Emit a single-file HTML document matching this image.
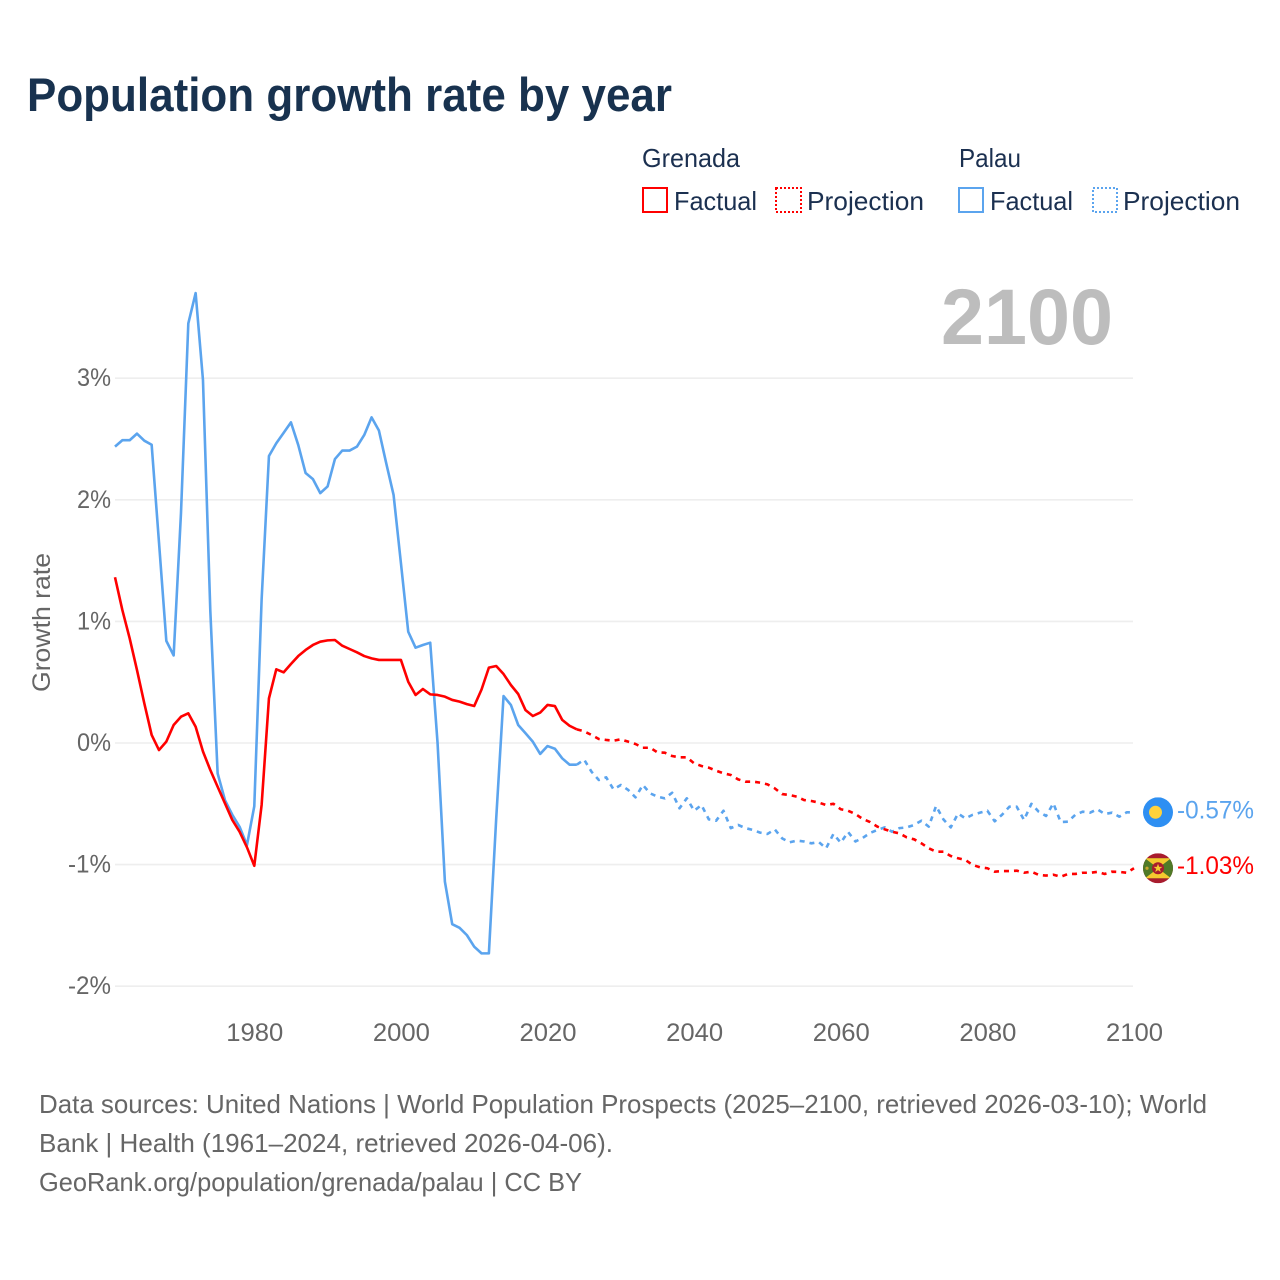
<!DOCTYPE html>
<html lang="en">
<head>
<meta charset="utf-8">
<title>Population growth rate by year</title>
<style>
html,body{margin:0;padding:0;background:#fff;width:1280px;height:1280px;overflow:hidden}
svg{display:block}
text{font-family:"Liberation Sans",sans-serif}
</style>
</head>
<body>
<svg id="chart" xmlns="http://www.w3.org/2000/svg" width="1280" height="1280" viewBox="0 0 1280 1280">
  <defs>
    <clipPath id="palau-clip"><circle cx="0" cy="0" r="15"/></clipPath>
    <clipPath id="grenada-clip"><circle cx="0" cy="0" r="15"/></clipPath>
  </defs>
  <rect width="1280" height="1280" fill="#fff"/>
  <text x="27" y="111" font-size="47" font-weight="700" fill="#18324f" textLength="645" lengthAdjust="spacingAndGlyphs">Population growth rate by year</text>

  <g font-size="26" fill="#1b3050">
    <text x="642" y="167" textLength="98" lengthAdjust="spacingAndGlyphs">Grenada</text>
    <rect x="643" y="188" width="24" height="24" fill="none" stroke="#ff0000" stroke-width="2"/>
    <text x="674" y="210" textLength="83" lengthAdjust="spacingAndGlyphs">Factual</text>
    <rect x="776" y="188" width="25" height="24" fill="none" stroke="#ff0000" stroke-width="2" stroke-dasharray="2,2"/>
    <text x="807" y="210" textLength="117" lengthAdjust="spacingAndGlyphs">Projection</text>
    <text x="959" y="167" textLength="62" lengthAdjust="spacingAndGlyphs">Palau</text>
    <rect x="959" y="188" width="24" height="24" fill="none" stroke="#5ba4ee" stroke-width="2"/>
    <text x="990" y="210" textLength="83" lengthAdjust="spacingAndGlyphs">Factual</text>
    <rect x="1093" y="188" width="24" height="24" fill="none" stroke="#5ba4ee" stroke-width="2" stroke-dasharray="2,2"/>
    <text x="1123" y="210" textLength="117" lengthAdjust="spacingAndGlyphs">Projection</text>
  </g>

  <text x="941" y="344" font-size="79" font-weight="700" fill="#bdbdbd" textLength="172" lengthAdjust="spacingAndGlyphs">2100</text>
  <text transform="translate(50,692) rotate(-90)" font-size="25" fill="#666666" textLength="139" lengthAdjust="spacingAndGlyphs">Growth rate</text>

  <g id="grid"></g>
  <g id="yticks"></g>
  <g id="xticks"></g>
  <g id="series"></g>
  <g id="ends"></g>

  <g font-size="26" fill="#666666">
    <text x="39" y="1113" textLength="1168" lengthAdjust="spacingAndGlyphs">Data sources: United Nations | World Population Prospects (2025–2100, retrieved 2026-03-10); World</text>
    <text x="39" y="1152" textLength="574" lengthAdjust="spacingAndGlyphs">Bank | Health (1961–2024, retrieved 2026-04-06).</text>
    <text x="39" y="1191" textLength="543" lengthAdjust="spacingAndGlyphs">GeoRank.org/population/grenada/palau | CC BY</text>
  </g>
</svg>
<script>
const xTickYears = [1980, 2000, 2020, 2040, 2060, 2080, 2100];
const yTickValues = [3, 2, 1, 0, -1, -2];
const factualStartYear = 1961;
const projectionStartYear = 2024;
const grenadaFactual = [1.363,1.094,0.861,0.60,0.326,0.066,-0.058,0.011,0.148,0.216,0.244,0.134,-0.07,-0.222,-0.36,-0.496,-0.633,-0.73,-0.858,-1.01,-0.51,0.367,0.606,0.581,0.65,0.715,0.765,0.806,0.833,0.844,0.847,0.80,0.773,0.746,0.715,0.696,0.683,0.683,0.683,0.683,0.504,0.395,0.444,0.40,0.395,0.381,0.354,0.34,0.32,0.304,0.44,0.62,0.633,0.567,0.477,0.403,0.27,0.222,0.25,0.313,0.304,0.19,0.142,0.112];
const grenadaProjection = [0.112,0.096,0.066,0.033,0.025,0.019,0.03,0.011,-0.008,-0.039,-0.039,-0.077,-0.08,-0.107,-0.118,-0.118,-0.167,-0.189,-0.203,-0.228,-0.249,-0.263,-0.299,-0.318,-0.318,-0.326,-0.34,-0.373,-0.42,-0.428,-0.441,-0.469,-0.477,-0.49,-0.51,-0.50,-0.545,-0.557,-0.584,-0.625,-0.65,-0.688,-0.71,-0.73,-0.743,-0.776,-0.792,-0.825,-0.866,-0.894,-0.894,-0.929,-0.948,-0.962,-1.003,-1.022,-1.03,-1.058,-1.053,-1.053,-1.05,-1.067,-1.058,-1.085,-1.09,-1.083,-1.10,-1.077,-1.077,-1.067,-1.067,-1.06,-1.077,-1.058,-1.06,-1.067,-1.03];
const palauFactual = [2.437,2.49,2.49,2.544,2.486,2.453,1.65,0.84,0.72,1.89,3.45,3.70,2.985,1.09,-0.25,-0.47,-0.59,-0.69,-0.84,-0.52,1.18,2.36,2.465,2.55,2.637,2.45,2.22,2.17,2.055,2.11,2.335,2.405,2.405,2.437,2.533,2.678,2.57,2.30,2.04,1.48,0.915,0.784,0.806,0.825,0.0,-1.14,-1.49,-1.52,-1.58,-1.675,-1.73,-1.73,-0.62,0.386,0.313,0.148,0.08,0.01,-0.09,-0.025,-0.047,-0.126,-0.178,-0.178];
const palauProjection = [-0.178,-0.137,-0.236,-0.304,-0.282,-0.381,-0.345,-0.386,-0.447,-0.345,-0.414,-0.441,-0.455,-0.409,-0.537,-0.455,-0.557,-0.51,-0.628,-0.639,-0.557,-0.70,-0.674,-0.70,-0.715,-0.737,-0.748,-0.71,-0.784,-0.817,-0.803,-0.81,-0.825,-0.814,-0.866,-0.748,-0.82,-0.732,-0.81,-0.78,-0.74,-0.715,-0.694,-0.73,-0.70,-0.694,-0.674,-0.639,-0.688,-0.518,-0.628,-0.694,-0.58,-0.62,-0.59,-0.573,-0.557,-0.644,-0.59,-0.524,-0.524,-0.633,-0.50,-0.565,-0.60,-0.496,-0.65,-0.647,-0.59,-0.565,-0.573,-0.545,-0.584,-0.573,-0.606,-0.57,-0.57];
const endValues = [-0.57, -1.03];
const endLabels = ['-0.57%', '-1.03%'];

const NS = 'http://www.w3.org/2000/svg';
const GRENADA_RED = '#ff0000';
const PALAU_BLUE = '#5ba4ee';
function xScale(year) { return 115 + (year - 1961) * 1019 / 139; }
function yScale(value) { return 743 - value * 121.6; }
function make(tag, attrs, parent) {
  const el = document.createElementNS(NS, tag);
  for (const k in attrs) el.setAttribute(k, attrs[k]);
  parent.appendChild(el);
  return el;
}
function drawLine(values, startYear, color, dashed, name, parent) {
  const d = values.map(function (v, i) {
    return (i ? 'L' : 'M') + xScale(startYear + i).toFixed(2) + ' ' + yScale(v).toFixed(2);
  }).join('');
  const attrs = { d: d, fill: 'none', stroke: color, 'stroke-width': 2.6, 'stroke-linejoin': 'round' };
  if (dashed) attrs['stroke-dasharray'] = '5,5';
  const path = make('path', attrs, parent);
  
  
}

const gridG = document.getElementById('grid');
const yG = document.getElementById('yticks');
yTickValues.forEach(function (v) {
  const line = make('line', { x1: 115, x2: 1133, y1: yScale(v), y2: yScale(v), stroke: '#eeeeee', 'stroke-width': 1.6 }, gridG);
  
  
  const t = make('text', { x: 111, y: yScale(v) + 8, 'text-anchor': 'end', 'font-size': 25, fill: '#666666', textLength: v < 0 ? 43 : 34, lengthAdjust: 'spacingAndGlyphs' }, yG);
  
  
  t.textContent = v + '%';
});

const xG = document.getElementById('xticks');
xTickYears.forEach(function (year) {
  const t = make('text', { x: xScale(year) + 0.5, y: 1041, 'text-anchor': 'middle', 'font-size': 25, fill: '#666666', textLength: 57, lengthAdjust: 'spacingAndGlyphs' }, xG);
  
  
  t.textContent = year;
});

const seriesG = document.getElementById('series');
drawLine(palauFactual, factualStartYear, PALAU_BLUE, false, 'palau-factual-line', seriesG);
drawLine(palauProjection, projectionStartYear, PALAU_BLUE, true, 'palau-projection-line', seriesG);
drawLine(grenadaFactual, factualStartYear, GRENADA_RED, false, 'grenada-factual-line', seriesG);
drawLine(grenadaProjection, projectionStartYear, GRENADA_RED, true, 'grenada-projection-line', seriesG);

const endsG = document.getElementById('ends');
const palauY = yScale(endValues[0]);
const grenadaY = yScale(endValues[1]);

const palauFlag = make('g', { transform: 'translate(1158,' + palauY + ')', 'clip-path': 'url(#palau-clip)' }, endsG);


make('rect', { x: -15, y: -15, width: 30, height: 30, fill: '#2e8ff2' }, palauFlag);
make('circle', { cx: -2.5, cy: 0, r: 6.5, fill: '#ffd23c' }, palauFlag);

const grenadaFlag = make('g', { transform: 'translate(1158,' + grenadaY + ')', 'clip-path': 'url(#grenada-clip)' }, endsG);


make('rect', { x: -15, y: -15, width: 30, height: 30, fill: '#a81c2e' }, grenadaFlag);
make('rect', { x: -15, y: -10, width: 30, height: 20, fill: '#4f7a28' }, grenadaFlag);
make('polygon', { points: '-13,-10 13,-10 0,0', fill: '#f5c92f' }, grenadaFlag);
make('polygon', { points: '-13,10 13,10 0,0', fill: '#f5c92f' }, grenadaFlag);
make('circle', { cx: 0, cy: 0, r: 6, fill: '#a81c2e' }, grenadaFlag);
make('polygon', { points: '0,-4.5 1.2,-1.4 4.4,-1.4 1.8,0.6 2.8,3.8 0,1.9 -2.8,3.8 -1.8,0.6 -4.4,-1.4 -1.2,-1.4', fill: '#f5c92f' }, grenadaFlag);
make('circle', { cx: -11, cy: 0, r: 1.6, fill: '#c9a52c' }, grenadaFlag);

const palauLabel = make('text', { x: 1177, y: palauY + 6, 'font-size': 25, fill: PALAU_BLUE, textLength: 77, lengthAdjust: 'spacingAndGlyphs' }, endsG);


palauLabel.textContent = endLabels[0];

const grenadaLabel = make('text', { x: 1177, y: grenadaY + 6, 'font-size': 25, fill: GRENADA_RED, textLength: 77, lengthAdjust: 'spacingAndGlyphs' }, endsG);


grenadaLabel.textContent = endLabels[1];
</script>
</body>
</html>
